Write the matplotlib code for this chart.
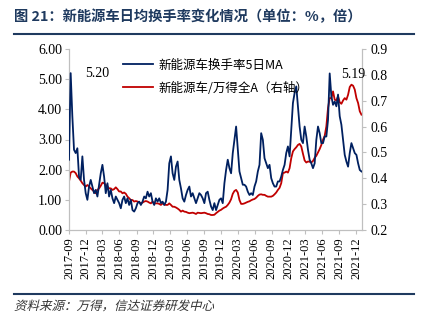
import numpy as np
import pandas as pd
import matplotlib
matplotlib.use("Agg")
import matplotlib.pyplot as plt
import matplotlib.dates as mdates
from matplotlib.ticker import MultipleLocator, FormatStrFormatter
from matplotlib.textpath import TextPath
from matplotlib.font_manager import FontProperties
from matplotlib.patches import PathPatch
from matplotlib.transforms import Affine2D

plt.rcParams['font.family'] = ['Noto Sans CJK SC', 'DejaVu Sans']

# 新能源车换手率5日MA（%，左轴）
turnover_ma5 = [
    2.33, 5.20, 3.77, 2.66, 2.55, 2.71, 1.77, 1.66, 2.44, 1.66,
    1.22, 1.00, 1.44, 1.66, 1.44, 1.22, 1.33, 1.11, 1.50, 1.88,
    2.16, 1.77, 1.22, 1.55, 1.11, 1.33, 1.05, 0.89, 1.11, 1.00,
    0.89, 0.72, 1.00, 1.11, 0.89, 1.05, 0.83, 1.00, 0.66, 0.61,
    0.72, 0.89, 0.94, 0.83, 0.94, 1.11, 1.05, 1.27, 1.11, 1.22,
    0.94, 0.83, 1.05, 0.94, 1.05, 0.89, 0.94, 0.83, 0.94, 1.33,
    2.21, 2.44, 1.88, 1.66, 2.10, 2.27, 1.66, 1.38, 1.05, 0.94,
    1.16, 1.33, 1.44, 1.11, 1.22, 1.05, 0.89, 1.05, 1.22, 1.16,
    1.05, 0.89, 1.22, 1.27, 1.00, 0.78, 0.66, 0.89, 0.66, 0.83,
    1.00,
    1.05, 0.89, 1.55, 1.99, 2.33, 2.05, 1.88, 2.55, 2.99, 3.43,
    2.66, 1.94, 1.72, 1.50, 1.50, 1.44, 1.27, 1.16, 1.22, 1.16,
    1.44, 1.61, 1.94, 2.16, 3.21, 2.99, 2.38, 2.21, 2.05, 2.16,
    1.72, 1.55, 1.44, 1.44, 1.61, 1.61, 1.77, 1.99, 2.16, 2.55,
    2.77, 2.44, 3.32, 4.21, 4.54, 4.76, 4.10, 3.43, 2.99, 2.88,
    3.43, 3.10, 2.66, 2.33, 2.21, 2.05, 2.21, 2.99, 3.43, 3.21,
    2.88, 2.88, 3.10, 3.10, 3.65, 5.19, 4.43, 4.15, 4.26, 4.10,
    4.49, 3.77, 3.49, 2.99, 2.49, 2.27, 2.10, 2.55, 2.88, 2.71,
    2.55, 2.49, 2.21, 1.99, 1.94,
]

# 新能源车/万得全A 换手率倍数（右轴）
relative_ratio = [
    0.387, 0.422, 0.426, 0.426, 0.420, 0.407, 0.400, 0.391, 0.381, 0.374,
    0.368, 0.374, 0.368, 0.361, 0.355, 0.349, 0.342, 0.355, 0.361, 0.371,
    0.383, 0.381, 0.374, 0.368, 0.361, 0.361, 0.355, 0.358, 0.365, 0.358,
    0.349, 0.349, 0.342, 0.345, 0.340, 0.329, 0.323, 0.316, 0.316, 0.310,
    0.312, 0.310, 0.307, 0.303, 0.306, 0.310, 0.312, 0.310, 0.306, 0.303,
    0.310, 0.303, 0.303, 0.303, 0.301, 0.297, 0.303, 0.299, 0.297, 0.297,
    0.303, 0.297, 0.290, 0.290, 0.287, 0.283, 0.278, 0.271, 0.275, 0.271,
    0.270, 0.267, 0.265, 0.266, 0.267, 0.265, 0.262, 0.267, 0.266, 0.265,
    0.266, 0.267, 0.265, 0.262, 0.261, 0.258, 0.258, 0.259, 0.265, 0.270,
    0.275,
    0.278, 0.283, 0.287, 0.290, 0.297, 0.306, 0.319, 0.340, 0.351, 0.355,
    0.345, 0.316, 0.301, 0.301, 0.303, 0.306, 0.309, 0.311, 0.315, 0.318,
    0.320, 0.325, 0.332, 0.337, 0.338, 0.336, 0.336, 0.332, 0.329, 0.329,
    0.329, 0.332, 0.338, 0.345, 0.355, 0.363, 0.381, 0.420, 0.422, 0.426,
    0.422, 0.439, 0.478, 0.504, 0.513, 0.520, 0.529, 0.533, 0.523, 0.495,
    0.469, 0.461, 0.465, 0.464, 0.461, 0.467, 0.479, 0.487, 0.500, 0.513,
    0.529, 0.549, 0.564, 0.601, 0.672, 0.710, 0.710, 0.736, 0.704, 0.701,
    0.717, 0.694, 0.688, 0.701, 0.710, 0.704, 0.723, 0.753, 0.762, 0.758,
    0.743, 0.710, 0.691, 0.659, 0.646,
]

dates = pd.date_range('2017-09-01', '2021-12-30', periods=len(turnover_ma5))

navy = '#002060'
red = '#C00000'
frame = '#1F3A5F'
serif = 'Liberation Serif'

fig = plt.figure(figsize=(4.27, 3.25), dpi=100)
ax = fig.add_axes([69 / 427, 1 - 230 / 325, 293 / 427, 181 / 325])
ax2 = ax.twinx()

l1, = ax.plot(dates, turnover_ma5, color=navy, lw=1.3, zorder=3)
l2, = ax2.plot(dates, relative_ratio, color=red, lw=1.3, zorder=2)
ax.set_zorder(ax2.get_zorder() + 1)
ax.patch.set_visible(False)

ax.set_ylim(0, 6)
ax.yaxis.set_major_locator(MultipleLocator(1))
ax.yaxis.set_major_formatter(FormatStrFormatter('%.2f'))
ax2.set_ylim(0.2, 0.9)
ax2.yaxis.set_major_locator(MultipleLocator(0.1))
ax2.yaxis.set_major_formatter(FormatStrFormatter('%.1f'))

ax.set_xlim(pd.Timestamp('2017-09-01'), pd.Timestamp('2022-01-02'))
ax.xaxis.set_major_locator(mdates.MonthLocator(bymonth=[3, 6, 9, 12]))
ax.xaxis.set_major_formatter(mdates.DateFormatter('%Y-%m'))

for a in (ax, ax2):
    for s in a.spines.values():
        s.set_color('#BFBFBF')
        s.set_linewidth(0.8)
    a.spines['top'].set_visible(False)
    a.tick_params(colors='#BFBFBF', labelcolor='black', length=3, width=0.8)
ax.tick_params(axis='y', labelsize=10, pad=2)
ax2.tick_params(axis='y', labelsize=10, pad=3)
ax.tick_params(axis='x', labelsize=9, rotation=90, pad=2)
for lab in ax.get_xticklabels() + ax.get_yticklabels() + ax2.get_yticklabels():
    lab.set_fontfamily(serif)

# 两个峰值标注
ax.text(pd.Timestamp('2018-02-01'), 5.2, '5.20', family=serif, fontsize=10,
        ha='center', va='center')
ax.text(pd.Timestamp('2021-11-18'), 5.17, '5.19', family=serif, fontsize=10,
        ha='center', va='center')

leg = ax.legend([l1, l2], ['新能源车换手率5日MA', '新能源车/万得全A（右轴）'],
                loc='upper left', bbox_to_anchor=(0.155, 0.995), frameon=False,
                fontsize=9, handlelength=2.4, handletextpad=0.4, labelspacing=0.8,
                borderaxespad=0.3)

fig.text(14 / 427, 1 - 17 / 325, '图 21：新能源车日均换手率变化情况（单位：%，倍）',
         fontsize=10.3, fontweight='bold', color=frame, va='center', ha='left')
fig.add_artist(plt.Line2D([14 / 427, 414 / 427], [1 - 34 / 325] * 2,
                          color=frame, lw=1.5))
fig.add_artist(plt.Line2D([14 / 427, 414 / 427], [1 - 294 / 325] * 2,
                          color=frame, lw=1.5))

# 资料来源：斜体效果用倾斜的文字路径绘制
src = TextPath((0, 0), '资料来源：万得，信达证券研发中心', size=12.5,
               prop=FontProperties(family='Noto Sans CJK SC'))
src_tf = Affine2D().skew_deg(14, 0).translate(14, 325 - 310)
fig.patches.append(PathPatch(src, transform=src_tf, facecolor='#333333',
                             edgecolor='none', figure=fig))

fig.savefig('out.png', dpi=100)
